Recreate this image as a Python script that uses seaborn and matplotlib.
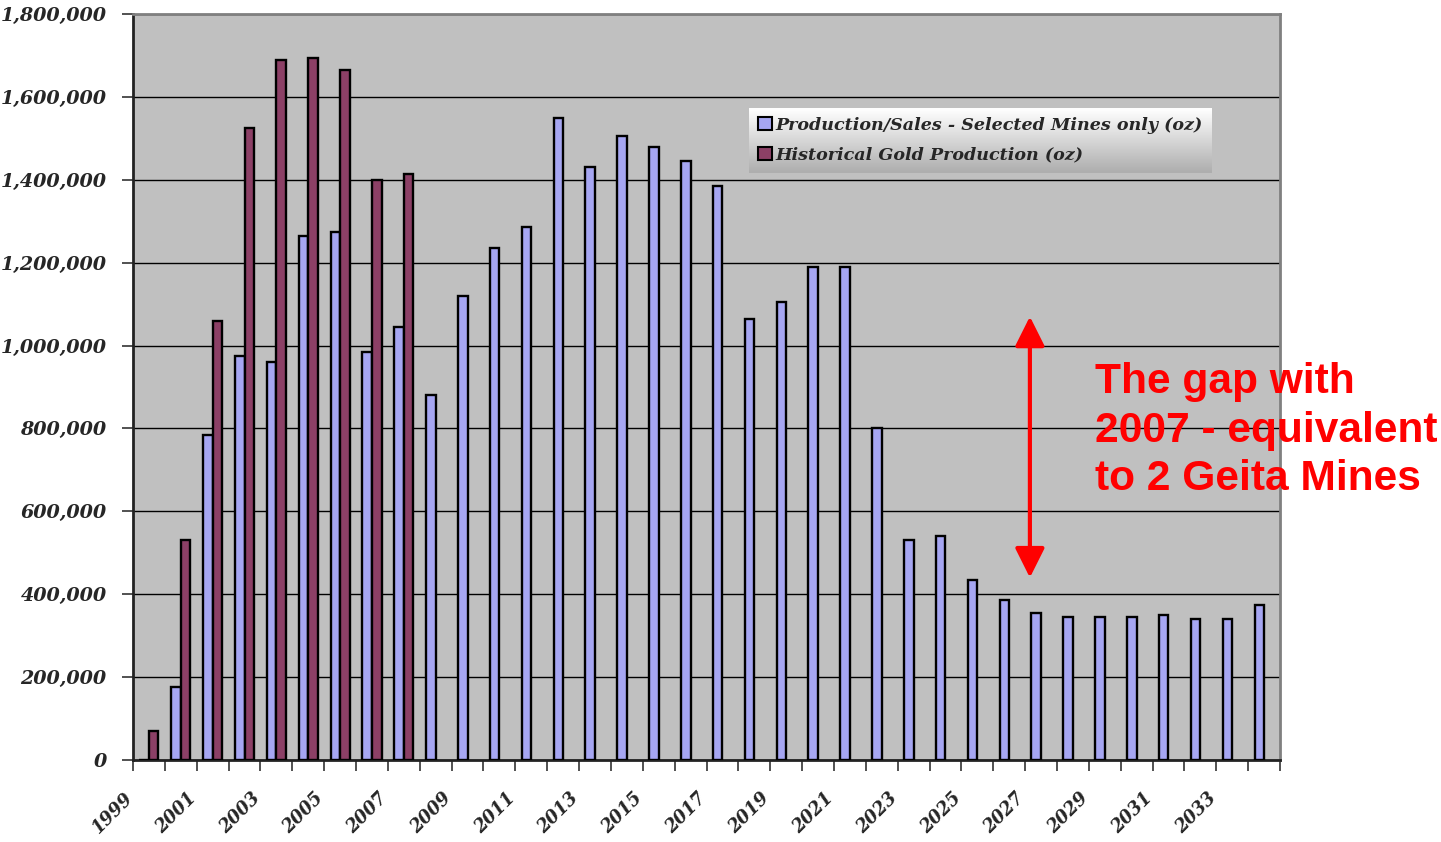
import numpy as np
import pandas as pd
import matplotlib
matplotlib.use("Agg")
import matplotlib.pyplot as plt
import seaborn as sns
from matplotlib.ticker import FuncFormatter
from matplotlib.font_manager import FontProperties

# Annual gold output, ounces
years = [str(y) for y in range(1999, 2035)]
selected_mines = [
    0, 175000, 785000, 975000, 960000, 1265000, 1275000, 985000, 1045000,
    880000, 1120000, 1235000, 1285000, 1550000, 1430000, 1505000, 1480000,
    1445000, 1385000, 1065000, 1105000, 1190000, 1190000, 800000, 530000,
    540000, 435000, 385000, 355000, 345000, 345000, 345000, 350000, 340000,
    340000, 375000,
]
historical = [
    70000, 530000, 1060000, 1525000, 1690000, 1695000, 1665000, 1400000, 1415000,
] + [np.nan] * 27

series_a = "Production/Sales - Selected Mines only (oz)"
series_b = "Historical Gold Production (oz)"
colors = {series_a: "#9999FF", series_b: "#993366"}

df = pd.concat([
    pd.DataFrame({"year": years, "series": series_a, "oz": selected_mines}),
    pd.DataFrame({"year": years, "series": series_b, "oz": historical}),
], ignore_index=True)

sns.set_theme(style="white")
plt.rcParams["font.family"] = ["DejaVu Serif"]
tick_font = dict(family="DejaVu Serif", weight="bold", style="italic")

W, H = 1441, 842
fig = plt.figure(figsize=(W / 100, H / 100), dpi=100)
fig.patch.set_facecolor("white")
ax = fig.add_axes([133 / W, 1 - 760 / H, (1280 - 133) / W, (760 - 14) / H])
ax.set_facecolor("#C0C0C0")

sns.barplot(
    data=df, x="year", y="oz", hue="series", order=years,
    hue_order=[series_a, series_b], palette=colors, width=0.6,
    edgecolor="black", linewidth=1.7, errorbar=None, ax=ax, zorder=3,
)

n = len(years)
ax.set_xlim(-0.5, n - 0.5)
ax.set_ylim(0, 1800000)
ax.set_xlabel("")
ax.set_ylabel("")

# horizontal gridlines
ax.set_yticks(np.arange(0, 1800001, 200000))
ax.yaxis.grid(True, color="black", linewidth=1.0, zorder=1)
ax.xaxis.grid(False)
ax.set_axisbelow(True)
ax.yaxis.set_major_formatter(FuncFormatter(lambda v, p: f"{v:,.0f}"))
ax.tick_params(axis="y", direction="out", length=8, width=1.2, color="#333333",
               pad=11, left=True)
for lab in ax.get_yticklabels():
    lab.set_fontproperties(FontProperties(**tick_font, size=13.8))

# category boundary ticks, labels every second year
ax.set_xticks(np.arange(-0.5, n, 1), minor=True)
ax.tick_params(axis="x", which="minor", direction="out", length=8, width=1.2,
               color="#333333", bottom=True)
major_pos = np.arange(0, n, 2) - 0.4
ax.set_xticks(major_pos)
ax.set_xticklabels([years[i] for i in range(0, n, 2)], rotation=45, ha="right",
                   fontdict=dict(**tick_font, size=12.8))
ax.tick_params(axis="x", which="major", length=0, pad=21)

for side in ["left", "bottom"]:
    ax.spines[side].set_color("#222222")
    ax.spines[side].set_linewidth(2)
for side in ["top", "right"]:
    ax.spines[side].set_visible(True)
    ax.spines[side].set_color("#808080")
    ax.spines[side].set_linewidth(2)

# legend with shaded background
handles, labels = ax.get_legend_handles_labels()
leg = ax.legend(
    handles, labels, loc="upper left", bbox_to_anchor=(0.537, 0.874),
    borderaxespad=0,
    prop=FontProperties(**tick_font, size=12.6),
    handlelength=0.8, handleheight=0.8, handletextpad=0.2, labelspacing=0.75,
    borderpad=0.5, frameon=True, fancybox=False,
)
leg.get_frame().set_facecolor("none")
leg.get_frame().set_edgecolor("none")
leg.set_zorder(10)
for h in leg.legend_handles:
    h.set_edgecolor("black")
    h.set_linewidth(1.5)

fig.canvas.draw()
bb = leg.get_window_extent().transformed(ax.transAxes.inverted())
grad_ax = ax.inset_axes([bb.x0, bb.y0, bb.width, bb.height])
grad = np.linspace(1.0, 0.68, 64).reshape(-1, 1)
grad_ax.imshow(grad, aspect="auto", cmap="gray", vmin=0, vmax=1,
               extent=[0, 1, 0, 1], interpolation="bicubic")
grad_ax.set_axis_off()
grad_ax.set_zorder(9)

# gap annotation
ax.annotate(
    "", xy=(27.65, 440000), xytext=(27.65, 1070000),
    arrowprops=dict(arrowstyle="<|-|>,head_length=0.9,head_width=0.45",
                    color="red", lw=3, mutation_scale=20, shrinkA=0, shrinkB=0),
    zorder=6,
)
ax.text(29.69, 960000, "The gap with\n2007 - equivalent\nto 2 Geita Mines",
        color="red", fontsize=30.6, fontweight="bold", family="Liberation Sans",
        ha="left", va="top", linespacing=1.27, clip_on=False, zorder=7)

fig.savefig("out.png", dpi=100)
